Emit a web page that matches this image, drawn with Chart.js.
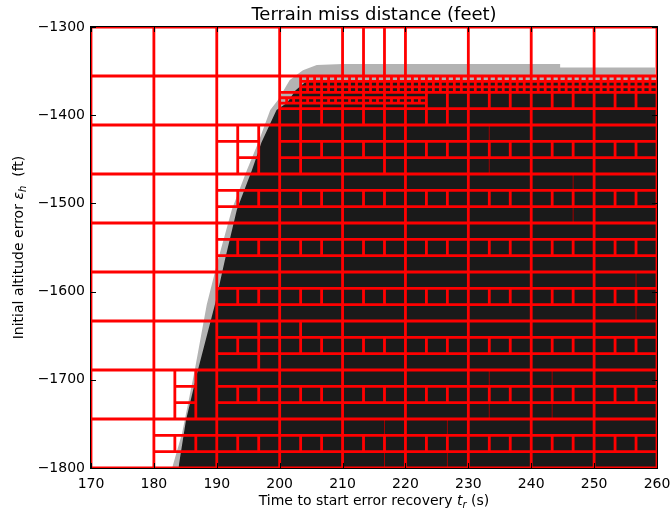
<!DOCTYPE html>
<html>
<head>
<meta charset="utf-8">
<script src="https://cdn.jsdelivr.net/npm/chart.js@4.4.1/dist/chart.umd.min.js"></script>
<style>
  html, body { margin: 0; padding: 0; background: #fff; overflow: hidden; }
  #wrap { width: 670px; height: 512px; position: relative; }
  canvas { display: block; }
</style>
</head>
<body>
<div id="wrap"><canvas id="chart"></canvas></div>
<script>
// ---- data ----
const xTicks = [170, 180, 190, 200, 210, 220, 230, 240, 250, 260];
const yTicks = [-1800, -1700, -1600, -1500, -1400, -1300];

// top level box edges (9 x 9)
const colEdges = [170, 180, 190, 200, 210, 220, 230, 240, 250, 260];
const rowEdges = [-1800, -1744.44, -1688.89, -1633.33, -1577.78, -1522.22, -1466.67, -1411.11, -1355.56, -1300];

// how every top level box is split, bottom row first
// '.' none, 'A' thirds in y then middle in x, 'B' thirds in x then middle in y, 'G' 3x3, 'X' thirds in x
const cellSplits = [
  '.AAAAAAAA',
  '.BAAAAAAA',
  '..AAAAAAA',
  '..AAAAAAA',
  '..AAAAAAA',
  '..AAAAAAA',
  '..BAAAAAA',
  '...GGGAAA',
  '....X....'
];

// deeper boxes: [x0, x1, y0, y1, nx, ny]
const refineBoxes = [
  [203.33, 260, -1374.07, -1355.56, 51, 3],
  [200, 223.33, -1392.59, -1374.07, 7, 3],
  [200, 223.33, -1386.42, -1380.25, 21, 1],
  [190, 193.33, -1429.63, -1411.11, 1, 1],
  [200, 203.33, -1429.63, -1411.11, 1, 1],
  [200, 203.33, -1466.67, -1448.15, 1, 1],
  [216.67, 220, -1429.63, -1411.11, 1, 1],
  [216.67, 220, -1466.67, -1448.15, 1, 1],
  [196.67, 200, -1651.85, -1633.33, 1, 1],
  [196.67, 200, -1688.89, -1670.37, 1, 1],
  [200, 203.33, -1651.85, -1633.33, 1, 1]
];

// faint split lines: [x, y0, y1]
const thinLines = [
  [246.67, -1522.22, -1503.70], [246.67, -1485.19, -1466.67],
  [233.33, -1429.63, -1411.11], [233.33, -1466.67, -1448.15],
  [256.67, -1596.30, -1577.78], [256.67, -1633.33, -1614.81],
  [233.33, -1707.41, -1688.89], [233.33, -1744.44, -1725.93],
  [243.33, -1707.41, -1688.89], [243.33, -1744.44, -1725.93],
  [216.67, -1762.96, -1744.44], [216.67, -1800, -1781.48],
  [226.67, -1762.96, -1744.44], [226.67, -1800, -1781.48]
];

// upper edge of the grey (near miss) and black (safe) regions
const greyEdgeX = [182.9, 184.5, 186.5, 188.4, 190.2, 192.4, 194.8, 196.6, 198.5, 199.7, 201.6, 203.7, 205.9, 210, 244.6, 244.6, 259.7];
const greyEdgeY = [-1800, -1760, -1689, -1615, -1564, -1507, -1462, -1431, -1394, -1383, -1360, -1349, -1343, -1342, -1342, -1346, -1346];
const blackEdgeX = [183.9, 185.1, 187.0, 189.8, 191.3, 193.2, 195.6, 197.1, 199.5, 201.2, 202.5, 204, 206, 260];
const blackEdgeY = [-1800, -1746, -1689, -1612, -1564, -1507, -1462, -1431, -1394, -1386, -1372, -1363, -1360, -1360];

// ---- build line data ----
const boxPts = [];
function rect(x0, x1, y0, y1) {
  boxPts.push({x: x0, y: y0}, {x: x1, y: y0}, {x: x1, y: y1}, {x: x0, y: y1}, {x: x0, y: y0}, {x: x0, y: null});
}
function grid(x0, x1, y0, y1, nx, ny) {
  const w = (x1 - x0) / nx, h = (y1 - y0) / ny;
  for (let i = 0; i < nx; i++)
    for (let j = 0; j < ny; j++)
      rect(x0 + i * w, x0 + (i + 1) * w, y0 + j * h, y0 + (j + 1) * h);
}
cellSplits.forEach((row, r) => {
  row.split('').forEach((c, k) => {
    const x0 = colEdges[k], x1 = colEdges[k + 1], y0 = rowEdges[r], y1 = rowEdges[r + 1];
    const w = (x1 - x0) / 3, h = (y1 - y0) / 3;
    if (c === '.') grid(x0, x1, y0, y1, 1, 1);
    if (c === 'A') { grid(x0, x1, y0, y1, 1, 3); grid(x0, x1, y0 + h, y0 + 2 * h, 3, 1); }
    if (c === 'B') { grid(x0, x1, y0, y1, 3, 1); grid(x0 + w, x0 + 2 * w, y0, y1, 1, 3); }
    if (c === 'G') grid(x0, x1, y0, y1, 3, 3);
    if (c === 'X') grid(x0, x1, y0, y1, 3, 1);
  });
});
refineBoxes.forEach(b => grid(...b));

const thinPts = [];
thinLines.forEach(([x, y0, y1]) => thinPts.push({x: x, y: y0}, {x: x, y: y1}, {x: x, y: null}));

const greyPts = greyEdgeX.map((x, i) => ({x: x, y: greyEdgeY[i]}));
const blackPts = blackEdgeX.map((x, i) => ({x: x, y: blackEdgeY[i]}));

// ---- text, ticks and frame ----
function richText(ctx, parts, cx, cy) {
  const base = 14, sub = 10;
  const fontOf = p => (p.it ? 'italic ' : '') + (p.sub ? sub : base) + 'px "DejaVu Sans"';
  let total = 0;
  parts.forEach(p => { ctx.font = fontOf(p); total += ctx.measureText(p.t).width; });
  let x = cx - total / 2;
  ctx.textAlign = 'left';
  ctx.textBaseline = 'alphabetic';
  parts.forEach(p => {
    ctx.font = fontOf(p);
    ctx.fillText(p.t, x, cy + (p.sub ? 3 : 0));
    x += ctx.measureText(p.t).width;
  });
}

const decor = {
  id: 'decor',
  afterDraw(chart) {
    const {ctx, chartArea: a, scales: {x, y}} = chart;
    ctx.save();
    ctx.strokeStyle = '#000';
    ctx.lineWidth = 1;
    ctx.beginPath();
    xTicks.forEach(v => {
      const p = Math.round(x.getPixelForValue(v)) + 0.5;
      ctx.moveTo(p, a.bottom); ctx.lineTo(p, a.bottom - 5);
      ctx.moveTo(p, a.top); ctx.lineTo(p, a.top + 5);
    });
    yTicks.forEach(v => {
      const p = Math.round(y.getPixelForValue(v)) + 0.5;
      ctx.moveTo(a.left, p); ctx.lineTo(a.left + 5, p);
      ctx.moveTo(a.right, p); ctx.lineTo(a.right - 5, p);
    });
    ctx.stroke();
    ctx.strokeRect(a.left - 0.5, a.top - 0.5, a.right - a.left + 1, a.bottom - a.top + 1);

    ctx.fillStyle = '#000';
    ctx.font = '18px "DejaVu Sans"';
    ctx.textAlign = 'center';
    ctx.textBaseline = 'alphabetic';
    ctx.fillText('Terrain miss distance (feet)', (a.left + a.right) / 2, 20);

    richText(ctx, [
      {t: 'Time to start error recovery '}, {t: 't', it: true}, {t: 'r', it: true, sub: true}, {t: ' (s)'}
    ], (a.left + a.right) / 2, 505);

    ctx.translate(23, (a.top + a.bottom) / 2);
    ctx.rotate(-Math.PI / 2);
    richText(ctx, [
      {t: 'Initial altitude error '}, {t: '\u03b5', it: true}, {t: 'h', it: true, sub: true}, {t: '  (ft)'}
    ], 0, 0);
    ctx.restore();
  }
};

new Chart(document.getElementById('chart'), {
  type: 'line',
  data: {
    datasets: [
      {data: boxPts, borderColor: '#ff0000', borderWidth: 2.8, pointRadius: 0, fill: false, spanGaps: false, clip: 0, order: 0, borderJoinStyle: 'miter'},
      {data: thinPts, borderColor: '#a00000', borderWidth: 1, pointRadius: 0, fill: false, spanGaps: false, clip: 0, order: 1},
      {data: blackPts, borderWidth: 0, borderColor: 'rgba(0,0,0,0)', backgroundColor: '#1a1a1a', pointRadius: 0, fill: 'start', clip: 0, order: 2},
      {data: greyPts, borderWidth: 0, borderColor: 'rgba(0,0,0,0)', backgroundColor: '#b3b3b3', pointRadius: 0, fill: 'start', clip: 0, order: 3}
    ]
  },
  options: {
    responsive: true,
    maintainAspectRatio: false,
    animation: false,
    layout: {padding: {top: 27, right: 13, left: 0, bottom: 0}},
    plugins: {legend: {display: false}, tooltip: {enabled: false}, title: {display: false}},
    elements: {line: {tension: 0}},
    scales: {
      x: {
        type: 'linear', min: 170, max: 260,
        afterFit: s => { s.height = 44; s.paddingLeft = 0; s.paddingRight = 0; },
        grid: {display: false, drawTicks: false}, border: {display: false},
        ticks: {stepSize: 10, padding: 8, color: '#000', font: {family: 'DejaVu Sans', size: 14}, maxRotation: 0}
      },
      y: {
        type: 'linear', min: -1800, max: -1300,
        afterFit: s => { s.width = 91; s.paddingTop = 0; s.paddingBottom = 0; },
        grid: {display: false, drawTicks: false}, border: {display: false},
        ticks: {stepSize: 100, padding: 6, color: '#000', font: {family: 'DejaVu Sans', size: 14},
          callback: v => String(v).replace('-', '\u2212')}
      }
    }
  },
  plugins: [decor]
});
</script>
</body>
</html>
